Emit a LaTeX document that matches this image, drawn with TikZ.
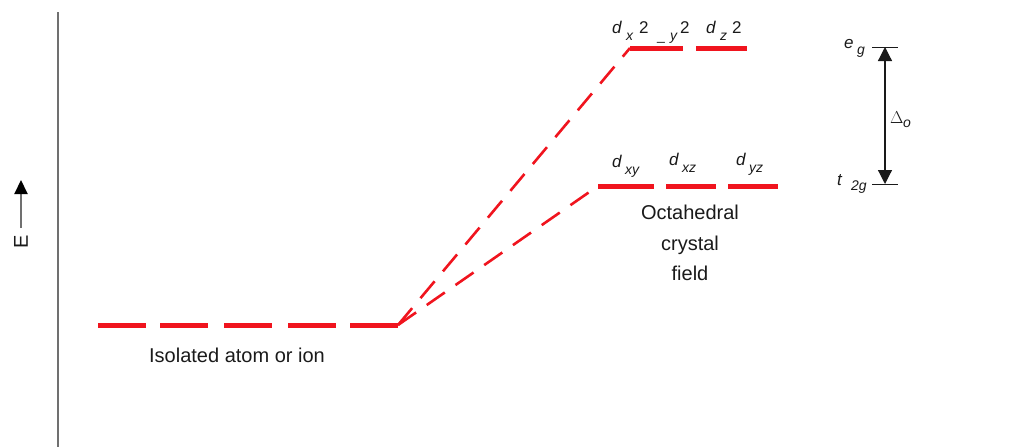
\documentclass[tikz,border=0pt]{standalone}
\usepackage{fontspec}
\setmainfont{Liberation Sans}
\usetikzlibrary{arrows.meta}
\definecolor{lvl}{HTML}{F0141E}
\definecolor{ax}{HTML}{707070}
\definecolor{txt}{HTML}{1A1A1A}
\begin{document}
\begin{tikzpicture}[x=1pt,y=-1pt,
  level/.style={draw=lvl,line width=5pt},
  split/.style={draw=lvl,line width=2.6pt,dash pattern=on 22pt off 13pt},
  lab/.style={inner sep=0pt,text=txt,font=\fontsize{20}{22}\selectfont},
  orb/.style={inner sep=0pt,text=txt,font=\fontsize{17}{18}\selectfont\itshape},
  sub/.style={inner sep=0pt,text=txt,font=\fontsize{14}{15}\selectfont\itshape},
  num/.style={inner sep=0pt,text=txt,font=\fontsize{17}{18}\selectfont},
  tick/.style={draw=txt,line width=1pt},
  gap/.style={draw=txt,line width=1.2pt,{Triangle[length=14pt,width=14pt]}-{Triangle[length=14pt,width=14pt]}}
]
\useasboundingbox (0,0) rectangle (1021,447);
% axis
\draw[ax,line width=2.2pt] (58,12) -- (58,447);
\coordinate (Ebot) at (21,228);
\coordinate (Etop) at (21,180);
\draw[ax,line width=2pt,-{Triangle[length=14pt,width=13pt,color=black]}] (Ebot) -- (Etop);
\node[lab,rotate=90] (E) at (21,242) {E};
% isolated levels
\foreach \a in {98,160,224,288,350}{\draw[level] (\a,325) -- ++(48,0);}
\coordinate (iso) at (398,325);
\node[lab] (isolab) at (237,355) {Isolated atom or ion};
% eg levels
\coordinate (eg) at (630,48);
\draw[level] (eg) -- (683,48);
\draw[level] (696,48) -- (747,48);
% t2g levels
\coordinate (t2) at (598,186);
\draw[level] (t2) -- (654,186);
\draw[level] (666,186) -- (716,186);
\draw[level] (728,186) -- (778,186);
% splitting lines
\draw[split] (iso) -- (eg);
\draw[split] (iso) -- (t2);
% orbital labels
\node[orb,anchor=base west] (dx) at (612,33) {d};
\node[sub,anchor=base west] (dxs) at (626,40) {x};
\node[num,anchor=base west] (dx2) at (639,33) {2};
\node[sub,anchor=base west] (dxm) at (657,40) {\upshape\_};
\node[sub,anchor=base west] (dys) at (670,40) {y};
\node[num,anchor=base west] (dy2) at (680,33) {2};
\node[orb,anchor=base west] (dz) at (706,33) {d};
\node[sub,anchor=base west] (dzs) at (720,40) {z};
\node[num,anchor=base west] (dz2) at (732,33) {2};
\node[orb,anchor=base west] (dxy) at (612,167) {d};
\node[sub,anchor=base west] (dxys) at (625,174) {xy};
\node[orb,anchor=base west] (dxz) at (669,165) {d};
\node[sub,anchor=base west] (dxzs) at (682,172) {xz};
\node[orb,anchor=base west] (dyz) at (736,165) {d};
\node[sub,anchor=base west] (dyzs) at (749,172) {yz};
% octahedral label
\node[lab,align=center,font=\fontsize{20}{30.5}\selectfont] (oct) at (690,243) {Octahedral\\crystal\\field};
% splitting energy
\coordinate (gtop) at (885,47);
\coordinate (gbot) at (885,184);
\draw[tick] (872,47) -- (898,47);
\draw[tick] (872,184) -- (898,184);
\draw[gap] (gtop) -- (gbot);
\node[orb,anchor=base west] (e) at (844,48) {e};
\node[sub,anchor=base west] (es) at (857,54) {g};
\node[orb,anchor=base west] (t) at (837,185) {t};
\node[sub,anchor=base west] (ts) at (851,190) {2g};
\node[num,anchor=base west] (D) at (890,123) {$\Delta$};
\node[sub,anchor=base west] (Ds) at (903,127) {o};
\end{tikzpicture}
\end{document}
